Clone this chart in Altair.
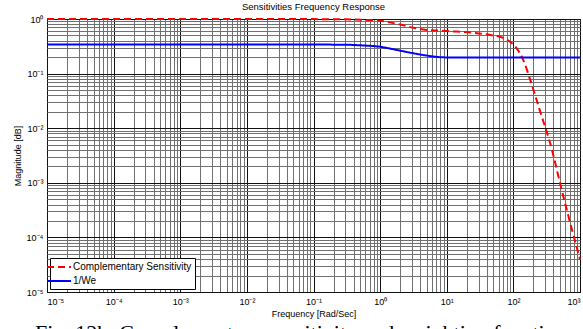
import altair as alt
import pandas as pd

# ---- data ----
series_names = ["Complementary Sensitivity", "1/We"]

freq_cs = [1e-5, 1e-3, 0.1, 0.3, 0.6, 1, 2, 3.16, 5, 8, 10, 25, 45, 70, 90,
           110, 140, 180, 250, 380, 500, 700, 1000]
mag_cs = [1.0, 1.0, 0.995, 0.985, 0.96, 0.93, 0.79, 0.69, 0.63, 0.61, 0.6,
          0.56, 0.51, 0.45, 0.38, 0.3, 0.18, 0.075, 0.021, 0.004, 0.001,
          0.0002, 0.00004]

freq_we = [1e-5, 0.1, 0.3, 0.5, 1, 1.8, 3.2, 5.6, 8, 10, 1000]
mag_we = [0.34, 0.34, 0.338, 0.33, 0.31, 0.27, 0.235, 0.21, 0.2, 0.198, 0.197]

x_major = [1e-5, 1e-4, 1e-3, 1e-2, 1e-1, 1, 10, 100, 1000]
x_labels = ["10⁻⁵", "10⁻⁴", "10⁻³", "10⁻²", "10⁻¹", "10⁰", "10¹", "10²", "10³"]
y_major = [1e-5, 1e-4, 1e-3, 1e-2, 1e-1, 1]
y_labels = ["10⁻⁵", "10⁻⁴", "10⁻³", "10⁻²", "10⁻¹", "10⁰"]

x_minor = [k * 10.0 ** d for d in range(-5, 3) for k in range(2, 10)]
y_minor = [k * 10.0 ** d for d in range(-5, 0) for k in range(2, 10)]

caption = "Fig. 12b. Complementary sensitivity and weighting function"

# ---- table ----
df = pd.concat([
    pd.DataFrame({"f": freq_cs, "m": mag_cs, "series": series_names[0]}),
    pd.DataFrame({"f": freq_we, "m": mag_we, "series": series_names[1]}),
])

FONT = "Liberation Sans"
xscale = alt.Scale(type="log", domain=[1e-5, 1e3], nice=False)
yscale = alt.Scale(type="log", domain=[1e-5, 1], nice=False)

def label_expr(labels):
    arr = "[" + ",".join("'" + l + "'" for l in labels) + "]"
    return arr + "[round(log(datum.value)/LN10)+5]"

legend = alt.Legend(
    title=None, orient="bottom-left", offset=3, padding=3,
    strokeColor="black", fillColor="white", symbolType="M-2.4,0H2.4",
    symbolSize=100, symbolStrokeWidth=2, rowPadding=3,
    labelFont=FONT, labelFontSize=10, labelColor="black", labelOffset=8,
)

minor = alt.Chart(df).mark_line(opacity=0).encode(
    x=alt.X("f:Q", scale=xscale,
            axis=alt.Axis(values=x_minor, orient="top", labels=False, ticks=False,
                          domain=False, grid=True, gridColor="#707070",
                          gridWidth=1, gridOpacity=1, title=None)),
    y=alt.Y("m:Q", scale=yscale,
            axis=alt.Axis(values=y_minor, orient="right", labels=False, ticks=False,
                          domain=False, grid=True, gridColor="#707070",
                          gridWidth=1, gridOpacity=1, title=None)),
    detail="series:N",
)

lines = alt.Chart(df).mark_line(strokeWidth=2, interpolate="monotone").encode(
    x=alt.X("f:Q", scale=xscale,
            axis=alt.Axis(values=x_major, orient="bottom", labelExpr=label_expr(x_labels),
                          ticks=False, domain=False, grid=True, gridColor="#111111",
                          gridWidth=1, gridOpacity=1, labelPadding=5,
                          title="Frequency [Rad/Sec]", titlePadding=3)),
    y=alt.Y("m:Q", scale=yscale,
            axis=alt.Axis(values=y_major, orient="left", labelExpr=label_expr(y_labels),
                          ticks=False, domain=False, grid=True, gridColor="#111111",
                          gridWidth=1, gridOpacity=1, labelPadding=4,
                          title="Magnitude [dB]", titlePadding=4)),
    color=alt.Color("series:N", scale=alt.Scale(domain=series_names,
                                                range=["#ff0000", "#0000ff"]),
                    legend=legend),
    strokeDash=alt.StrokeDash("series:N", scale=alt.Scale(domain=series_names,
                                                          range=[[7, 4], [1, 0]]),
                              legend=legend),
)

cap = alt.Chart(pd.DataFrame({"t": [caption]})).mark_text(
    align="left", baseline="alphabetic", font="Liberation Serif", fontSize=22,
    color="black",
).encode(text="t:N", x=alt.value(-12), y=alt.value(321))

chart = alt.layer(minor, lines, cap).resolve_axis(
    x="independent", y="independent"
).properties(
    width=533, height=273,
    title=alt.TitleParams("Sensitivities Frequency Response", font=FONT, fontSize=9.5,
                          fontWeight="normal", color="black", offset=4),
    autosize=alt.AutoSizeParams(type="none"),
    padding={"left": 47, "top": 19, "right": 3, "bottom": 37},
).configure_view(
    stroke="black", strokeWidth=1
).configure_axis(
    labelFont=FONT, labelFontSize=9, labelColor="black",
    titleFont=FONT, titleFontSize=9, titleFontWeight="normal", titleColor="black",
)

chart.save("out.html", embed_options={"renderer": "svg", "actions": False})
